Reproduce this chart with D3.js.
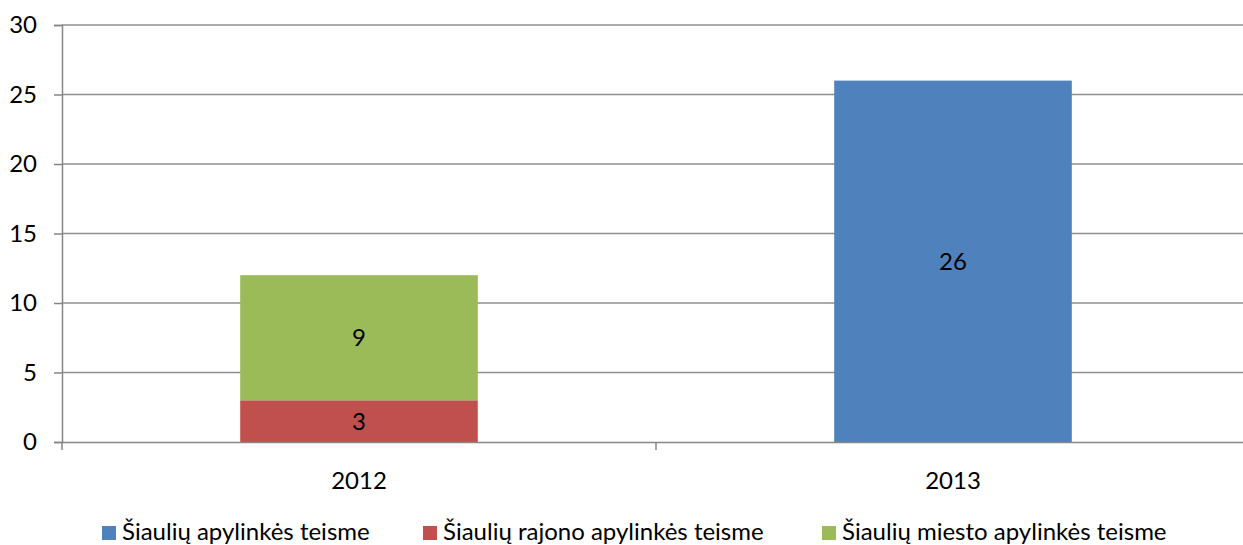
<!DOCTYPE html>
<html>
<head>
<meta charset="utf-8">
<script src="https://cdn.jsdelivr.net/npm/d3@7"></script>
<style>
  body { margin: 0; background: #fff; }
  text { font-family: Lato, "Open Sans", sans-serif; fill: #000; }
</style>
</head>
<body>
<div id="chart"></div>
<script>
var years = ["2012", "2013"]
var seriesNames = ["Šiaulių apylinkės teisme", "Šiaulių rajono apylinkės teisme", "Šiaulių miesto apylinkės teisme"]
var apylinkes = [0, 26]
var rajono = [3, 0]
var miesto = [9, 0]
var yTicks = [0, 5, 10, 15, 20, 25, 30]
var colors = ["#4F81BD", "#C0504D", "#9BBB59"]

var width = 1243
var height = 545

var plotLeft = 62
var plotRight = 1250
var plotTop = 25
var plotBottom = 442
var fontSize = "24px"

var rows = years.map(function (yr, i) {
  return { year: yr, s0: apylinkes[i], s1: rajono[i], s2: miesto[i] }
})

var stack = d3.stack().keys(["s0", "s1", "s2"])
var layers = stack(rows)

var x = d3.scaleBand()
  .domain(years)
  .range([plotLeft, plotRight])
  .paddingInner(0)
  .paddingOuter(0)

var barWidth = x.bandwidth() * 0.4

var y = d3.scaleLinear()
  .domain([0, 30])
  .range([plotBottom, plotTop])

var svg = d3.select("#chart").append("svg")
  .attr("width", width)
  .attr("height", height)

// grid lines
svg.append("g")
  .selectAll("line")
  .data(yTicks.filter(function (d) { return d > 0 }))
  .enter()
  .append("line")
  .attr("x1", plotLeft)
  .attr("x2", plotRight)
  .attr("y1", function (d) { return y(d) })
  .attr("y2", function (d) { return y(d) })
  .attr("stroke", "#8e8e8e")
  .attr("stroke-width", 1.5)

// bars
var layerG = svg.append("g")
  .selectAll("g")
  .data(layers)
  .enter()
  .append("g")
  .attr("fill", function (d, i) { return colors[i] })

layerG.selectAll("rect")
  .data(function (d) { return d })
  .enter()
  .append("rect")
  .attr("x", function (d) { return x(d.data.year) + (x.bandwidth() - barWidth) / 2 })
  .attr("width", barWidth)
  .attr("y", function (d) { return y(d[1]) })
  .attr("height", function (d) { return y(d[0]) - y(d[1]) })

// value labels
layerG.selectAll("text")
  .data(function (d) { return d.filter(function (p) { return p[1] - p[0] > 0 }) })
  .enter()
  .append("text")
  .attr("x", function (d) { return x(d.data.year) + x.bandwidth() / 2 })
  .attr("y", function (d) { return (y(d[0]) + y(d[1])) / 2 })
  .attr("dy", "0.36em")
  .attr("text-anchor", "middle")
  .attr("style", "font-size:" + fontSize + ";fill:#000")
  .text(function (d) { return d[1] - d[0] })

// y axis
var yAxis = svg.append("g")
  .attr("transform", "translate(" + plotLeft + ",0)")
  .call(d3.axisLeft(y).tickValues(yTicks).tickSize(8).tickPadding(17))
yAxis.select(".domain").attr("stroke", "#868686").attr("stroke-width", 1.5)
yAxis.selectAll(".tick line").attr("stroke", "#868686").attr("stroke-width", 1.5)
yAxis.selectAll(".tick text")
  .attr("style", "font-size:" + fontSize + ";font-family:Lato;fill:#000")

// x axis
var xAxis = svg.append("g")
  .attr("transform", "translate(0," + plotBottom + ")")
  .call(d3.axisBottom(x).tickSize(0).tickPadding(30))
xAxis.select(".domain").attr("stroke", "#868686").attr("stroke-width", 1.5)
xAxis.selectAll(".tick text")
  .attr("style", "font-size:" + fontSize + ";font-family:Lato;fill:#000")

// category separator ticks
svg.append("g")
  .selectAll("line")
  .data(d3.range(years.length + 1))
  .enter()
  .append("line")
  .attr("x1", function (d) { return plotLeft + d * x.bandwidth() })
  .attr("x2", function (d) { return plotLeft + d * x.bandwidth() })
  .attr("y1", plotBottom)
  .attr("y2", plotBottom + 8)
  .attr("stroke", "#868686")
  .attr("stroke-width", 1.5)

// legend
var legendX = [102, 423, 822]
var legend = svg.append("g")
  .selectAll("g")
  .data(seriesNames)
  .enter()
  .append("g")
  .attr("transform", function (d, i) { return "translate(" + legendX[i] + ",526)" })

legend.append("rect")
  .attr("width", 14)
  .attr("height", 14)
  .attr("fill", function (d, i) { return colors[i] })

legend.append("text")
  .attr("x", 20)
  .attr("y", 14)
  .attr("style", "font-size:" + fontSize)
  .text(function (d) { return d })
</script>
</body>
</html>
